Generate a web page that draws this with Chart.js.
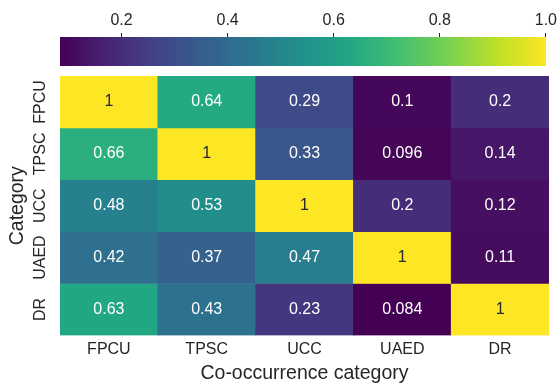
<!DOCTYPE html>
<html>
<head>
<meta charset="utf-8">
<script src="https://cdn.jsdelivr.net/npm/chart.js@4/dist/chart.umd.min.js"></script>
<style>
html, body { margin: 0; padding: 0; background: #fff; }
#wrap { position: relative; width: 560px; height: 385px; }
#wrap > div { position: absolute; left: 0; top: 0; width: 560px; }
</style>
</head>
<body>
<div id="wrap">
    <div style="height:385px"><canvas id="heat"></canvas></div>
    <div style="height:70px"><canvas id="cbar"></canvas></div>
</div>
<script>
const rowLabels = ['FPCU', 'TPSC', 'UCC', 'UAED', 'DR'];
const colLabels = ['FPCU', 'TPSC', 'UCC', 'UAED', 'DR'];
const rowFPCU = [1, 0.64, 0.29, 0.1, 0.2];
const rowTPSC = [0.66, 1, 0.33, 0.096, 0.14];
const rowUCC = [0.48, 0.53, 1, 0.2, 0.12];
const rowUAED = [0.42, 0.37, 0.47, 1, 0.11];
const rowDR = [0.63, 0.43, 0.23, 0.084, 1];
const colorbarTicks = [0.2, 0.4, 0.6, 0.8, 1.0];

const matrix = [rowFPCU, rowTPSC, rowUCC, rowUAED, rowDR];
const allValues = matrix.flat();
const vmin = Math.min(...allValues);
const vmax = Math.max(...allValues);

const textColor = '#262626';
const fontFamily = "'Liberation Sans', Arial, sans-serif";
Chart.defaults.font.family = fontFamily;
Chart.defaults.color = textColor;

// viridis anchors
const viridisStops = ['#440154', '#482475', '#414487', '#355f8d', '#2a788e', '#21918c',
    '#22a884', '#44bf70', '#7ad151', '#bddf26', '#fde725'];
function hexToRgb(h) {
    return [parseInt(h.slice(1, 3), 16), parseInt(h.slice(3, 5), 16), parseInt(h.slice(5, 7), 16)];
}
function viridis(t) {
    t = Math.max(0, Math.min(1, t));
    const pos = t * (viridisStops.length - 1);
    const i = Math.min(Math.floor(pos), viridisStops.length - 2);
    const f = pos - i;
    const a = hexToRgb(viridisStops[i]), b = hexToRgb(viridisStops[i + 1]);
    const c = a.map((v, k) => Math.round(v + (b[k] - v) * f));
    return `rgb(${c[0]},${c[1]},${c[2]})`;
}
function colorFor(v) {
    return viridis((v - vmin) / (vmax - vmin));
}

// heatmap: one floating-bar dataset per row
const datasets = matrix.map((row, i) => ({
    label: rowLabels[i],
    data: row.map(() => [i, i + 1]),
    values: row,
    backgroundColor: row.map(colorFor),
    borderWidth: 0,
    grouped: false,
    barPercentage: 1,
    categoryPercentage: 1
}));

const cellTextPlugin = {
    id: 'cellText',
    afterDatasetsDraw(chart) {
        const ctx = chart.ctx;
        ctx.save();
        ctx.font = '16px ' + fontFamily;
        ctx.textAlign = 'center';
        ctx.textBaseline = 'middle';
        chart.data.datasets.forEach((ds, i) => {
            const meta = chart.getDatasetMeta(i);
            meta.data.forEach((bar, j) => {
                const v = ds.values[j];
                const yc = (bar.y + bar.base) / 2;
                ctx.fillStyle = (v - vmin) / (vmax - vmin) > 0.85 ? textColor : '#ffffff';
                ctx.fillText(String(v), bar.x, yc);
            });
        });
        ctx.restore();
    }
};

const rowLabelPlugin = {
    id: 'rowLabels',
    afterDraw(chart) {
        const ctx = chart.ctx;
        const y = chart.scales.y;
        ctx.save();
        ctx.font = '16px ' + fontFamily;
        ctx.fillStyle = textColor;
        ctx.textAlign = 'center';
        ctx.textBaseline = 'middle';
        rowLabels.forEach((lab, i) => {
            ctx.save();
            ctx.translate(chart.chartArea.left - 19, y.getPixelForValue(i + 0.5));
            ctx.rotate(-Math.PI / 2);
            ctx.fillText(lab, 0, 0);
            ctx.restore();
        });
        ctx.restore();
    }
};

new Chart(document.getElementById('heat'), {
    type: 'bar',
    data: { labels: colLabels, datasets },
    options: {
        responsive: true,
        maintainAspectRatio: false,
        animation: false,
        layout: { padding: { top: 76, left: 6, right: 11, bottom: 0 } },
        plugins: { legend: { display: false }, tooltip: { enabled: false } },
        scales: {
            x: {
                grid: { display: false, tickLength: 0 },
                border: { display: false },
                ticks: { font: { size: 16 }, color: textColor, padding: 5 },
                title: {
                    display: true,
                    text: 'Co-occurrence category',
                    font: { size: 19.5 },
                    color: textColor,
                    padding: { top: -3, bottom: 0 }
                }
            },
            y: {
                min: 0,
                max: rowLabels.length,
                reverse: true,
                grid: { display: false, tickLength: 0 },
                border: { display: false },
                ticks: { display: false },
                title: {
                    display: true,
                    text: 'Category',
                    font: { size: 19.5 },
                    color: textColor,
                    padding: { top: 0, bottom: 30.6 }
                }
            }
        }
    },
    plugins: [cellTextPlugin, rowLabelPlugin]
});

// colorbar
new Chart(document.getElementById('cbar'), {
    type: 'bar',
    data: {
        labels: [''],
        datasets: [{
            data: [[vmin, vmax]],
            borderWidth: 0,
            barPercentage: 1,
            categoryPercentage: 1,
            backgroundColor(c) {
                const area = c.chart.chartArea;
                if (!area) return '#888';
                const g = c.chart.ctx.createLinearGradient(area.left, 0, area.right, 0);
                for (let k = 0; k <= 40; k++) g.addColorStop(k / 40, viridis(k / 40));
                return g;
            }
        }]
    },
    options: {
        indexAxis: 'y',
        responsive: true,
        maintainAspectRatio: false,
        animation: false,
        layout: { padding: { top: 8, left: 60, right: 11, bottom: 4 } },
        plugins: { legend: { display: false }, tooltip: { enabled: false } },
        scales: {
            x: {
                position: 'top',
                min: vmin,
                max: vmax,
                afterBuildTicks(axis) {
                    axis.ticks = colorbarTicks.map(v => ({ value: v }));
                },
                grid: { display: true, drawOnChartArea: false, tickLength: 4, tickColor: textColor, tickWidth: 1 },
                border: { display: false },
                ticks: {
                    font: { size: 16 },
                    color: textColor,
                    padding: 3,
                    maxRotation: 0,
                    autoSkip: false,
                    callback: v => Number(v).toFixed(1)
                }
            },
            y: { display: false }
        }
    }
});
</script>
</body>
</html>
